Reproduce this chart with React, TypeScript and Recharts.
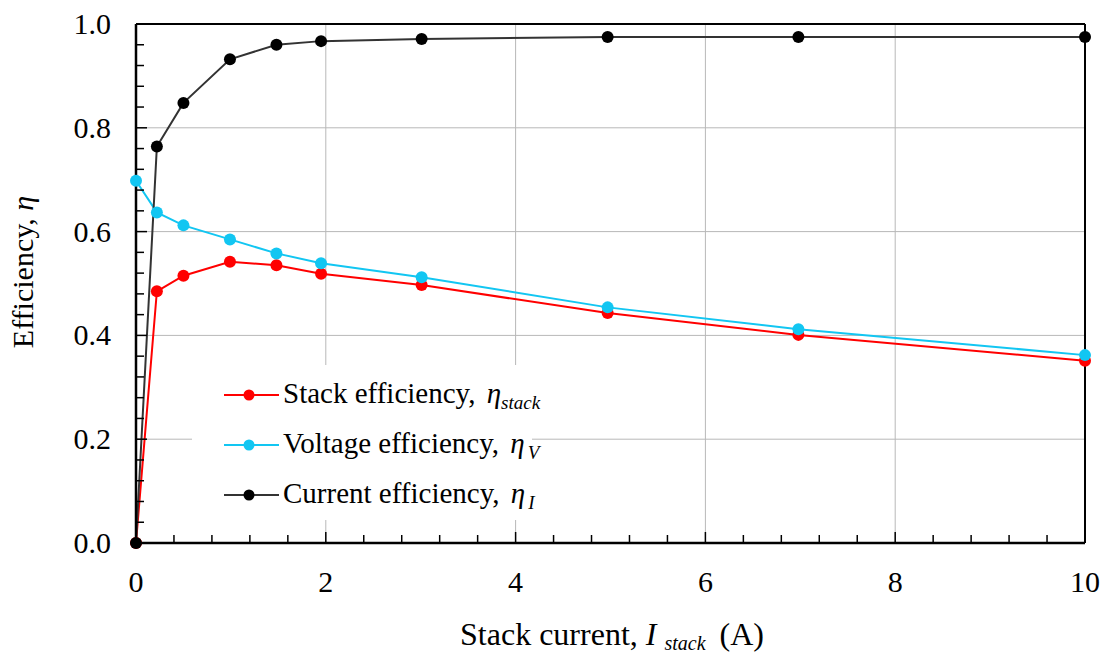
import React from "react";
import {
  LineChart,
  Line,
  XAxis,
  YAxis,
  ReferenceLine,
  Legend,
} from "recharts";

// Stack current (A)
const current = [0, 0.22, 0.5, 0.99, 1.48, 1.95, 3.01, 4.97, 6.98, 10];
const stackEff = [0, 0.485, 0.515, 0.542, 0.535, 0.519, 0.497, 0.443, 0.401, 0.351];
const voltageEff = [0.698, 0.637, 0.612, 0.585, 0.558, 0.539, 0.512, 0.454, 0.412, 0.362];
const currentEff = [0, 0.764, 0.848, 0.932, 0.96, 0.967, 0.971, 0.975, 0.975, 0.975];

const xMajor = [0, 2, 4, 6, 8, 10];
const yMajor = [0, 0.2, 0.4, 0.6, 0.8, 1.0];
const xGrid = [2, 4, 6, 8];
const yGrid = [0.2, 0.4, 0.6, 0.8];
const xMinor = Array.from({ length: 26 }, (_, i) => +(i * 0.4).toFixed(2));
const yMinor = Array.from({ length: 26 }, (_, i) => +(i * 0.04).toFixed(2));

const FONT = '"Liberation Serif", "Times New Roman", serif';
const RED = "#ff0000";
const CYAN = "#12c6f2";
const DARK = "#000000";

const data = current.map((x, i) => ({
  x,
  stack: stackEff[i],
  volt: voltageEff[i],
  curr: currentEff[i],
}));

const isMajor = (v: number, list: number[]) =>
  list.some((m) => Math.abs(m - v) < 1e-6);

function XTick(props: any) {
  const { x, y, payload } = props;
  const major = isMajor(payload.value, xMajor);
  return (
    <g>
      <line x1={x} x2={x} y1={y} y2={y - (major ? 11 : 8)} stroke="#000" strokeWidth={1.5} />
      {major && (
        <text
          x={x}
          y={y + 49}
          textAnchor="middle"
          fontFamily={FONT}
          fontSize={30}
          fill="#000"
        >
          {payload.value}
        </text>
      )}
    </g>
  );
}

function YTick(props: any) {
  const { x, y, payload } = props;
  const major = isMajor(payload.value, yMajor);
  return (
    <g>
      <line x1={x} x2={x + (major ? 11 : 8)} y1={y} y2={y} stroke="#000" strokeWidth={1.5} />
      {major && (
        <text
          x={x - 25}
          y={y + 10}
          textAnchor="end"
          fontFamily={FONT}
          fontSize={30}
          fill="#000"
        >
          {payload.value.toFixed(1)}
        </text>
      )}
    </g>
  );
}

const legendRows = [
  { color: RED, label: "Stack efficiency, ", sub: "stack" },
  { color: CYAN, label: "Voltage efficiency, ", sub: "V" },
  { color: DARK, label: "Current efficiency, ", sub: "I" },
];

function LegendBox() {
  return (
    <div
      style={{
        position: "relative",
        width: 340,
        height: 155,
        background: "#fff",
        fontFamily: FONT,
        fontSize: 29,
        color: "#000",
      }}
    >
      {legendRows.map((r, i) => (
        <div
          key={i}
          style={{
            position: "absolute",
            left: 0,
            top: 30 + i * 50 - 20,
            height: 40,
            display: "flex",
            alignItems: "center",
            whiteSpace: "nowrap",
          }}
        >
          <svg width={91} height={16} style={{ display: "block" }}>
            <line x1={32} x2={87} y1={8} y2={8} stroke={r.color === DARK ? "#333" : r.color} strokeWidth={2} />
            <circle cx={57} cy={8} r={5.5} fill={r.color} />
          </svg>
          <span>
            {r.label}
            <i style={{ marginLeft: 4 }}>η</i>
            <i style={{ fontSize: 19, verticalAlign: -6, marginLeft: r.sub === "stack" ? 0 : 3 }}>
              {r.sub}
            </i>
          </span>
        </div>
      ))}
    </div>
  );
}

export default function App() {
  return (
    <div style={{ position: "absolute", left: 0, top: 0, background: "#fff" }}>
      <LineChart
        width={1105}
        height={653}
        data={data}
        margin={{ top: 24, right: 20, bottom: 50, left: 0 }}
      >
        {xGrid.map((v) => (
          <ReferenceLine key={"gx" + v} x={v} stroke="#b8b8b8" strokeWidth={1} />
        ))}
        {yGrid.map((v) => (
          <ReferenceLine key={"gy" + v} y={v} stroke="#b8b8b8" strokeWidth={1} />
        ))}
        <ReferenceLine x={10} stroke="#000" strokeWidth={2} />
        <ReferenceLine y={1} stroke="#000" strokeWidth={2} />
        <XAxis
          dataKey="x"
          type="number"
          domain={[0, 10]}
          ticks={xMinor}
          interval={0}
          height={60}
          tickSize={0}
          tickMargin={0}
          tickLine={false}
          axisLine={{ stroke: "#000", strokeWidth: 2.5 }}
          tick={<XTick />}
          label={(p: any) => (
            <text
              x={612}
              y={645}
              textAnchor="middle"
              fontFamily={FONT}
              fontSize={32}
              fill="#000"
            >
              <tspan>Stack current, </tspan>
              <tspan fontStyle="italic">I</tspan>
              <tspan fontStyle="italic" fontSize={20} dx={8} dy={5}>stack</tspan>
              <tspan dx={6} dy={-5}> (A)</tspan>
            </text>
          )}
        />
        <YAxis
          type="number"
          domain={[0, 1]}
          ticks={yMinor}
          interval={0}
          width={136}
          tickSize={0}
          tickMargin={0}
          tickLine={false}
          axisLine={{ stroke: "#000", strokeWidth: 2.5 }}
          tick={<YTick />}
          label={(p: any) => (
            <text
              x={33}
              y={272}
              transform="rotate(-90 33 272)"
              textAnchor="middle"
              fontFamily={FONT}
              fontSize={30}
              fill="#000"
            >
              <tspan>Efficiency, </tspan>
              <tspan fontStyle="italic">η</tspan>
            </text>
          )}
        />
        <Legend
          layout="horizontal"
          verticalAlign="middle"
          align="center"
          content={() => <LegendBox />}
          wrapperStyle={{ position: "absolute", left: 192, top: 365, width: 340, height: 155 }}
        />
        <Line
          dataKey="stack"
          type="linear"
          stroke={RED}
          strokeWidth={2}
          dot={{ r: 6, fill: RED, stroke: "none" }}
          isAnimationActive={false}
        />
        <Line
          dataKey="volt"
          type="linear"
          stroke={CYAN}
          strokeWidth={2}
          dot={{ r: 6, fill: CYAN, stroke: "none" }}
          isAnimationActive={false}
        />
        <Line
          dataKey="curr"
          type="linear"
          stroke="#333"
          strokeWidth={2}
          dot={{ r: 6, fill: "#000", stroke: "none" }}
          isAnimationActive={false}
        />
      </LineChart>
    </div>
  );
}
